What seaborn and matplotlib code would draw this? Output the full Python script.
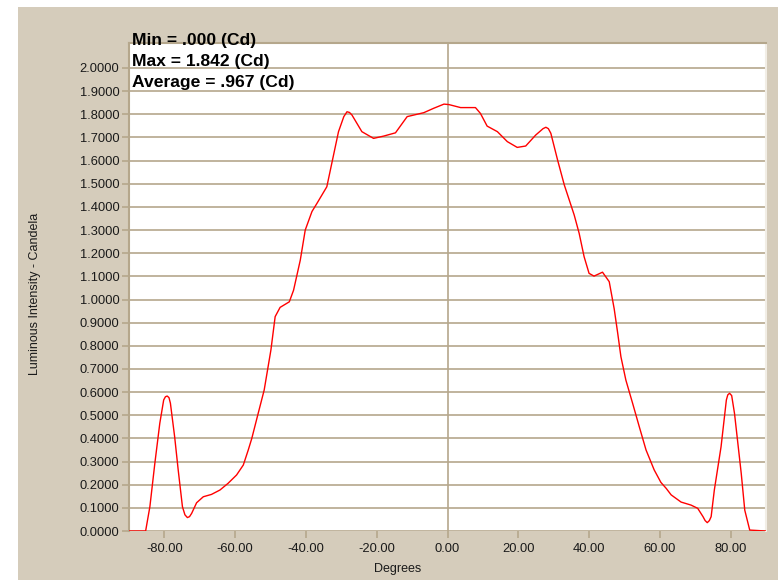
import matplotlib
matplotlib.use("Agg")
import matplotlib.pyplot as plt
import seaborn as sns
from matplotlib.patches import Rectangle

# ---- data ----
degrees = [-90.0, -85.3, -84.1, -82.7, -81.3, -80.2, -79.7, -79.2, -78.7, -78.3,
           -77.1, -76.1, -74.9, -74.2, -73.5, -72.9, -72.3, -70.9, -69.0, -66.7,
           -64.3, -62.0, -59.6, -57.7, -56.3, -55.3, -53.5, -51.8, -50.8, -49.9,
           -48.7, -47.3, -44.7, -43.5, -41.6, -40.2, -38.3, -36.9, -34.1, -32.7,
           -30.8, -29.3, -28.4, -27.7, -27.0, -24.2, -20.9, -18.0, -14.7, -11.4,
           -6.7, -3.9, -1.0, 0.4, 3.7, 7.9, 9.3, 11.2, 14.1, 16.9,
           19.7, 22.1, 24.9, 27.0, 27.8, 28.5, 29.2, 31.1, 33.0, 34.4,
           35.8, 37.2, 38.6, 40.0, 41.4, 43.8, 45.7, 47.1, 48.1, 49.0,
           50.4, 52.3, 54.2, 56.1, 58.4, 60.3, 61.8, 63.2, 66.0, 68.8,
           70.7, 72.2, 72.8, 73.4, 74.0, 74.5, 75.4, 77.3, 78.8, 79.2,
           79.7, 80.3, 81.1, 83.0, 84.0, 85.4, 90.0]
candela = [0.000, 0.000, 0.105, 0.292, 0.465, 0.566, 0.580, 0.583, 0.576, 0.552,
           0.407, 0.264, 0.105, 0.070, 0.058, 0.062, 0.076, 0.122, 0.148, 0.158,
           0.177, 0.206, 0.242, 0.285, 0.350, 0.400, 0.508, 0.609, 0.700, 0.782,
           0.926, 0.966, 0.990, 1.040, 1.170, 1.300, 1.380, 1.415, 1.487, 1.588,
           1.725, 1.790, 1.811, 1.808, 1.797, 1.725, 1.696, 1.706, 1.720, 1.790,
           1.807, 1.826, 1.844, 1.842, 1.829, 1.829, 1.804, 1.749, 1.725, 1.682,
           1.657, 1.663, 1.710, 1.738, 1.744, 1.738, 1.718, 1.603, 1.495, 1.430,
           1.365, 1.286, 1.185, 1.113, 1.101, 1.118, 1.077, 0.960, 0.854, 0.753,
           0.652, 0.552, 0.450, 0.350, 0.264, 0.210, 0.184, 0.156, 0.125, 0.112,
           0.098, 0.062, 0.045, 0.036, 0.045, 0.062, 0.177, 0.364, 0.566, 0.588,
           0.595, 0.585, 0.508, 0.249, 0.090, 0.004, 0.000]

stats_lines = ["Min = .000 (Cd)", "Max = 1.842 (Cd)", "Average = .967 (Cd)"]
x_ticks = [-80, -60, -40, -20, 0, 20, 40, 60, 80]
y_ticks = [round(0.1 * i, 1) for i in range(21)]
x_label = "Degrees"
y_label = "Luminous Intensity - Candela"

# ---- style ----
sns.set_style("white")
plt.rcParams['font.family'] = ['Liberation Sans', 'DejaVu Sans']

W, H = 778, 580
TAN = "#D5CCBB"
GRID = "#B5A78C"

fig = plt.figure(figsize=(W / 100, H / 100), dpi=100)
fig.patch.set_facecolor("white")
fig.patches.append(Rectangle((18 / W, 0), 1 - 18 / W, 1 - 7 / H,
                             transform=fig.transFigure, facecolor=TAN,
                             edgecolor="none", zorder=-10))

left, right, top, bottom = 129, 766, 43, 531
ax = fig.add_axes([left / W, (H - bottom) / H, (right - left) / W, (bottom - top) / H])
ax.set_facecolor("white")

for yv in y_ticks:
    ax.axhline(yv, color=GRID, lw=1.2, zorder=1)
ax.axvline(0, color=GRID, lw=1.2, zorder=1)

sns.lineplot(x=degrees, y=candela, ax=ax, color="#FF0000", lw=1.0,
             sort=False, estimator=None, zorder=3)

ax.set_xlim(-90, 90)
ax.set_ylim(0, (bottom - top) / 231.5)
ax.set_xticks(x_ticks)
ax.set_xticklabels([f"{v:.2f}" for v in x_ticks])
ax.set_yticks(y_ticks)
ax.set_yticklabels([f"{v:.4f}" for v in y_ticks])
ax.tick_params(axis="both", which="both", direction="out", length=5, width=1.2,
               color=GRID, labelcolor="#1a1a1a", labelsize=9.3, pad=2,
               left=True, bottom=True)
ax.tick_params(axis="x", pad=4)

for s in ["left", "top"]:
    ax.spines[s].set_color(GRID)
    ax.spines[s].set_linewidth(1.5)
ax.spines["right"].set_color("#F2EEE6")
ax.spines["right"].set_linewidth(1.5)
ax.spines["bottom"].set_visible(False)

ax.set_xlabel("")
ax.set_ylabel("")
fig.text(398 / W, 1 - 569 / H, x_label, ha="center", va="center",
         fontsize=9, color="#1a1a1a")
fig.text(35 / W, 1 - 294 / H, y_label, ha="center", va="center",
         rotation=90, fontsize=9, color="#1a1a1a")

for i, t in enumerate(stats_lines):
    fig.text(132 / W, 1 - (40 + 21.5 * i) / H, t, ha="left", va="center",
             fontsize=12.6, fontweight="bold", color="black", zorder=5)

fig.savefig("out.png", dpi=100, facecolor=fig.get_facecolor())
